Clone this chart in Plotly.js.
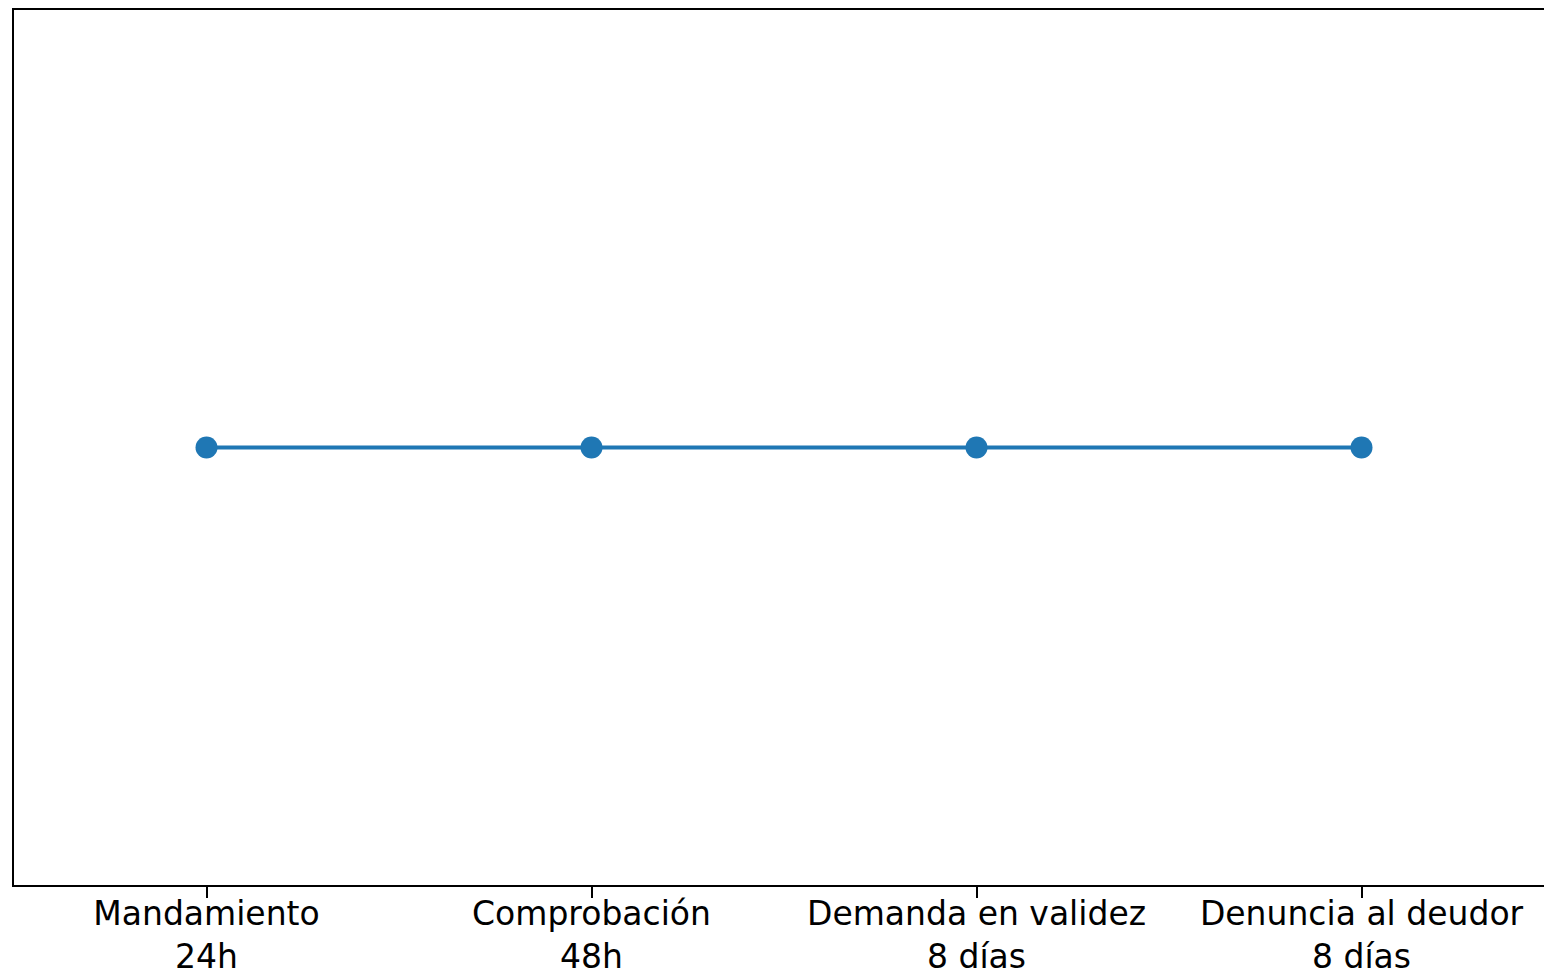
<!DOCTYPE html>
<html>
<head>
<meta charset="utf-8">
<script src="https://cdn.plot.ly/plotly-3.0.1.min.js"></script>
<style>html,body{margin:0;padding:0;background:#fff;}#chart{width:1544px;height:975px;}</style>
</head>
<body>
<div id="chart"></div>
<script>
const stages = ["Mandamiento", "Comprobación", "Demanda en validez", "Denuncia al deudor"];
const durations = ["24h", "48h", "8 días", "8 días"];
const levels = [1, 1, 1, 1];

const tickLabels = stages.map((s, i) => s + "<br>" + durations[i]);
const xIdx = stages.map((_, i) => i);

const trace = {
  x: xIdx,
  y: levels,
  mode: "lines+markers",
  line: {color: "#1f77b4", width: 4},
  marker: {color: "#1f77b4", size: 22},
  hoverinfo: "skip"
};

const layout = {
  width: 1544,
  height: 975,
  margin: {l: 14, r: 0, t: 10, b: 90},
  paper_bgcolor: "#ffffff",
  plot_bgcolor: "#ffffff",
  showlegend: false,
  font: {family: "DejaVu Sans", color: "#000000", size: 33},
  xaxis: {
    range: [-0.5, 3.474],
    tickmode: "array",
    tickvals: xIdx,
    ticktext: tickLabels,
    showgrid: false,
    zeroline: false,
    showline: true,
    mirror: true,
    linecolor: "#000000",
    linewidth: 2,
    ticks: "outside",
    ticklen: 11,
    tickwidth: 2,
    tickcolor: "#000000",
    ticklabelstandoff: -13,
    tickfont: {family: "DejaVu Sans", size: 33, color: "#000000"}
  },
  yaxis: {
    range: [0.945, 1.055],
    showgrid: false,
    zeroline: false,
    showline: true,
    linecolor: "#000000",
    linewidth: 2,
    ticks: "",
    showticklabels: false
  }
};

Plotly.newPlot("chart", [trace], layout, {staticPlot: true, displayModeBar: false});
</script>
</body>
</html>
